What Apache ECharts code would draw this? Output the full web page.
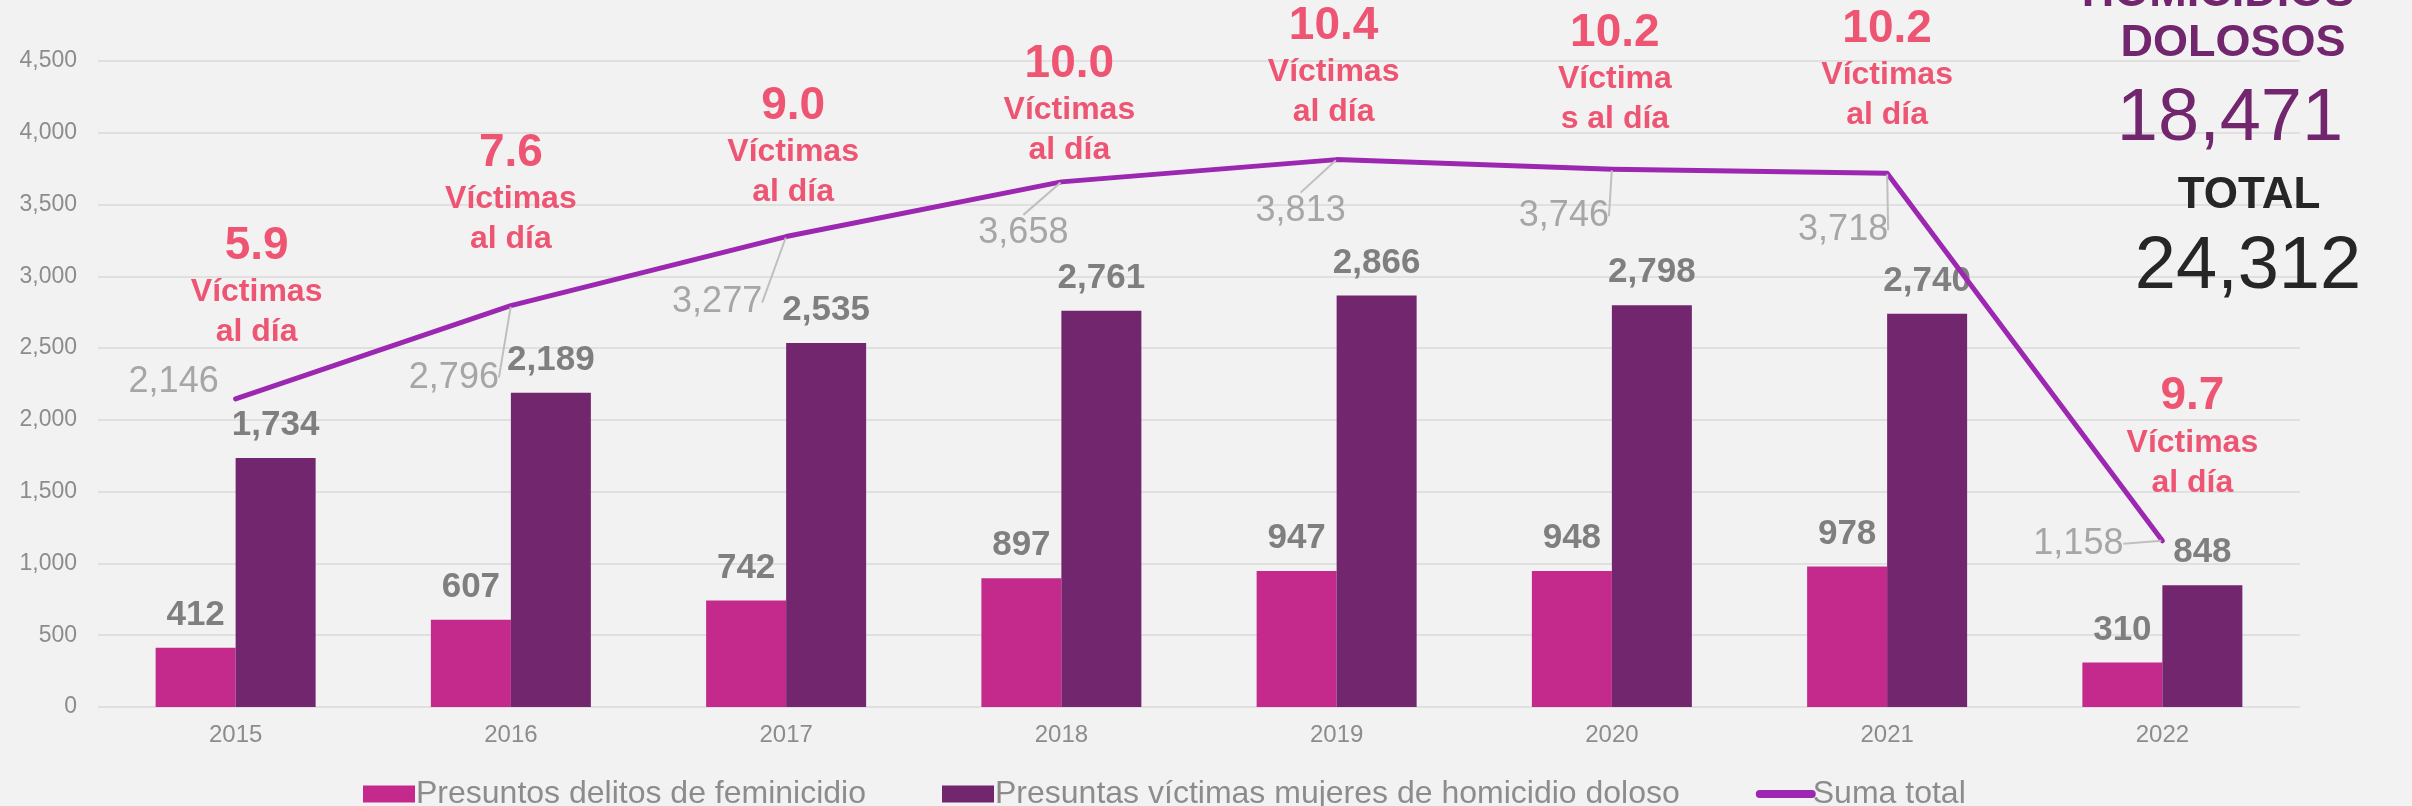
<!DOCTYPE html>
<html>
<head>
<meta charset="utf-8">
<script src="https://cdn.jsdelivr.net/npm/echarts@6/dist/echarts.min.js"></script>
<style>
  html, body { margin: 0; padding: 0; background: #f2f2f2; }
  #chart { width: 2412px; height: 806px; }
</style>
</head>
<body>
<div id="chart"></div>
<script>
const years = ['2015', '2016', '2017', '2018', '2019', '2020', '2021', '2022'];
const feminicidios = [412, 607, 742, 897, 947, 948, 978, 310];
const homicidiosMujeres = [1734, 2189, 2535, 2761, 2866, 2798, 2740, 848];
const sumaTotal = [2146, 2796, 3277, 3658, 3813, 3746, 3718, 1158];
const victimasDia = ['5.9', '7.6', '9.0', '10.0', '10.4', '10.2', '10.2', '9.7'];
const victimasTexto = [
  ['Víctimas', 'al día'], ['Víctimas', 'al día'], ['Víctimas', 'al día'], ['Víctimas', 'al día'],
  ['Víctimas', 'al día'], ['Víctima', 's al día'], ['Víctimas', 'al día'], ['Víctimas', 'al día']
];
const yMax = 4500;
const yStep = 500;

// where the labels sit relative to the line points
const totalShift = [[-62, -17], [-57, 72], [-69, 66], [-38, 51], [-36, 51], [-48, 47], [-44, 57], [-84, 3]];
const rateShift = [[21, -113], [0, -112], [7, -90], [8, -78], [-3, -93], [3, -96], [0, -104], [30, -104]];

const fmt = v => Number(v).toLocaleString('en-US');
const totalHom = homicidiosMujeres.reduce((a, b) => a + b, 0);
const totalAll = sumaTotal.reduce((a, b) => a + b, 0);

const FONT = "'Liberation Sans', Arial, sans-serif";
const PINK = '#c42a8c';
const PURPLE = '#72266d';
const LINE = '#9c27b0';
const RED = '#ed5573';

const chart = echarts.init(document.getElementById('chart'));

chart.setOption({
  backgroundColor: '#f2f2f2',
  animation: false,
  textStyle: { fontFamily: FONT },
  grid: { left: 98, right: 112, top: 61, bottom: 99 },
  legend: {
    left: 358,
    top: 773,
    itemWidth: 52,
    itemHeight: 17,
    itemGap: 76,
    textStyle: { fontSize: 32, color: '#8c8c8c', fontFamily: FONT, padding: [0, 0, 0, -4] },
    data: [
      { name: 'Presuntos delitos de feminicidio', icon: 'rect' },
      { name: 'Presuntas víctimas mujeres de homicidio doloso', icon: 'rect' },
      { name: 'Suma total', itemStyle: { opacity: 0 }, lineStyle: { width: 8, cap: 'round', color: LINE } }
    ]
  },
  xAxis: {
    type: 'category',
    data: years,
    axisLine: { show: false },
    axisTick: { show: false },
    axisLabel: { fontSize: 24, color: '#8c8c8c', margin: 16 }
  },
  yAxis: {
    type: 'value',
    min: 0,
    max: yMax,
    interval: yStep,
    axisLine: { show: false },
    axisTick: { show: false },
    axisLabel: { fontSize: 23, color: '#8c8c8c', margin: 21, formatter: v => fmt(v) },
    splitLine: { lineStyle: { color: '#e0e0e0', width: 2 } }
  },
  series: [
    {
      name: 'Presuntos delitos de feminicidio',
      type: 'bar',
      data: feminicidios,
      barWidth: 80,
      barGap: '0%',
      itemStyle: { color: PINK },
      label: {
        show: true, position: 'top', distance: 15,
        fontSize: 35, fontWeight: 'bold', color: '#7f7f7f',
        formatter: p => fmt(p.value)
      }
    },
    {
      name: 'Presuntas víctimas mujeres de homicidio doloso',
      type: 'bar',
      data: homicidiosMujeres,
      barWidth: 80,
      itemStyle: { color: PURPLE },
      label: {
        show: true, position: 'top', distance: 15,
        fontSize: 35, fontWeight: 'bold', color: '#7f7f7f',
        formatter: p => fmt(p.value)
      }
    },
    {
      name: 'Suma total',
      type: 'line',
      data: sumaTotal.map((v, i) => i === 0 ? { value: v, labelLine: { show: false } } : v),
      symbol: 'circle',
      symbolSize: 2,
      itemStyle: { color: LINE },
      lineStyle: { color: LINE, width: 5, cap: 'round', join: 'round' },
      z: 5,
      label: {
        show: true, position: 'inside',
        fontSize: 36, color: '#a6a6a6',
        formatter: p => fmt(p.value)
      },
      labelLine: { show: true, lineStyle: { color: '#bfbfbf', width: 2 } },
      labelLayout: p => ({ dx: totalShift[p.dataIndex][0], dy: totalShift[p.dataIndex][1] })
    },
    {
      name: 'Víctimas al día',
      type: 'line',
      data: sumaTotal,
      symbol: 'circle',
      symbolSize: 1,
      silent: true,
      itemStyle: { color: 'transparent' },
      lineStyle: { width: 0, opacity: 0 },
      z: 6,
      label: {
        show: true, position: 'inside',
        align: 'center', verticalAlign: 'middle',
        formatter: p => `{n|${victimasDia[p.dataIndex]}}\n{t|${victimasTexto[p.dataIndex][0]}}\n{t|${victimasTexto[p.dataIndex][1]}}`,
        rich: {
          n: { fontSize: 46, fontWeight: 'bold', color: RED, lineHeight: 52, align: 'center', fontFamily: FONT },
          t: { fontSize: 32, fontWeight: 'bold', color: RED, lineHeight: 40, align: 'center', fontFamily: FONT }
        }
      },
      labelLayout: p => ({ dx: rateShift[p.dataIndex][0], dy: rateShift[p.dataIndex][1] })
    }
  ],
  graphic: [
    { type: 'text', z: 100, x: 2218, y: -6, style: { text: 'HOMICIDIOS', font: `bold 45px ${FONT}`, fill: PURPLE, textAlign: 'center', textVerticalAlign: 'middle' } },
    { type: 'text', z: 100, x: 2233, y: 44, style: { text: 'DOLOSOS', font: `bold 45px ${FONT}`, fill: PURPLE, textAlign: 'center', textVerticalAlign: 'middle' } },
    { type: 'text', z: 100, x: 2230, y: 120, style: { text: fmt(totalHom), font: `74px ${FONT}`, fill: PURPLE, textAlign: 'center', textVerticalAlign: 'middle' } },
    { type: 'text', z: 100, x: 2249, y: 196, style: { text: 'TOTAL', font: `bold 44px ${FONT}`, fill: '#262626', textAlign: 'center', textVerticalAlign: 'middle' } },
    { type: 'text', z: 100, x: 2248, y: 268, style: { text: fmt(totalAll), font: `74px ${FONT}`, fill: '#262626', textAlign: 'center', textVerticalAlign: 'middle' } }
  ]
});
</script>
</body>
</html>
